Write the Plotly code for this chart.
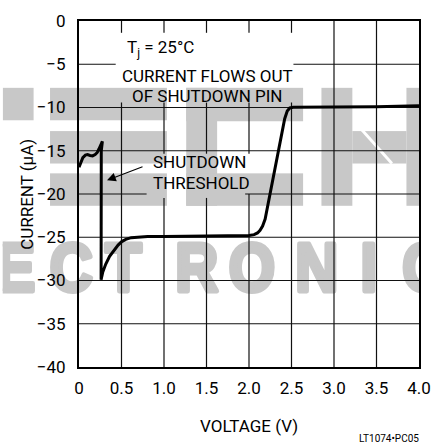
import base64
import plotly.graph_objects as go

# ---------------- data ----------------
voltage = [0.0, 0.02, 0.045, 0.075, 0.10, 0.13, 0.16, 0.19, 0.215, 0.235, 0.255, 0.275, 0.262,
           0.26, 0.28, 0.315, 0.36, 0.41, 0.46, 0.503, 0.55, 0.614, 0.70, 0.807, 1.0, 1.5, 2.0,
           2.06, 2.10, 2.13, 2.16, 2.19, 2.22, 2.30, 2.38, 2.42, 2.45, 2.48, 2.52, 3.0, 3.5, 4.0]
current = [-16.9, -16.4, -15.8, -15.5, -15.45, -15.55, -15.6, -15.45, -15.2, -14.8, -14.3, -13.9, -15.0,
           -29.9, -29.0, -28.1, -27.2, -26.5, -25.9, -25.5, -25.25, -25.05, -24.95, -24.9, -24.9, -24.85, -24.8,
           -24.7, -24.5, -24.2, -23.7, -22.9, -21.4, -17.3, -13.2, -11.3, -10.4, -10.05, -9.98, -9.95, -9.9, -9.8]

x_ticks = [0, 0.5, 1.0, 1.5, 2.0, 2.5, 3.0, 3.5, 4.0]
x_tick_labels = ["0", "0.5", "1.0", "1.5", "2.0", "2.5", "3.0", "3.5", "4.0"]
y_ticks = [0, -5, -10, -15, -20, -25, -30, -35, -40]
y_tick_labels = ["0", "\u22125", "\u221210", "\u221215", "\u221220", "\u221225", "\u221230", "\u221235", "\u221240"]

FONT = "Roboto, Arial, sans-serif"
FS = 17
W, H = 442, 446
ML, MR, MT, MB = 79, 11, 15, 79
PW, PH = W - ML - MR, H - MT - MB

# ---------------- watermark (background) as an SVG image ----------------
grey = "#c8c8c8"
rects = [
    (0, 83, 32, 116),
    (49, 83, 170, 116), (49, 127, 170, 160), (49, 170, 170, 203),
    (190, 83, 222, 203), (190, 83, 311, 117), (190, 170, 311, 203),
    (330, 83, 362, 203), (362, 127, 418, 160), (418, 83, 450, 203),
]
letters = [("E", 13), ("C", 71), ("T", 125), ("R", 201), ("O", 258), ("N", 325), ("I", 379), ("C", 436)]
svg = [f'<svg xmlns="http://www.w3.org/2000/svg" width="{W}" height="{H}" viewBox="0 0 {W} {H}">',
       '<defs><clipPath id="c"><rect x="0" y="0" width="431" height="446"/></clipPath></defs>',
       '<g clip-path="url(#c)">']
for x0, y0, x1, y1 in rects:
    svg.append(f'<rect x="{x0}" y="{y0}" width="{x1-x0}" height="{y1-y0}" fill="{grey}"/>')
svg.append('<line x1="372" y1="126" x2="403" y2="160" stroke="white" stroke-width="3"/>')
for ch, cx in letters:
    svg.append(f'<g transform="translate({cx},289.5) scale(0.88,1)"><text x="0" y="0" text-anchor="middle" '
               f'font-family="Liberation Sans, Arial, sans-serif" font-weight="bold" font-size="70" '
               f'fill="{grey}" stroke="{grey}" stroke-width="5" stroke-linejoin="round">{ch}</text></g>')
svg.append('</g></svg>')
svg_uri = "data:image/svg+xml;base64," + base64.b64encode("".join(svg).encode()).decode()

fig = go.Figure()

fig.add_trace(go.Scatter(x=voltage, y=current, mode="lines",
                         line=dict(color="black", width=3), hoverinfo="skip", showlegend=False))

# ---------------- grid lines drawn as segments (with gaps behind labels) ----------------
def px_to_y(py):
    return -(py - MT) / PH * 40.0

def px_to_x(px):
    return (px - ML) / PW * 4.0

v_gaps = {
    0.5: [(27, 98)], 1.0: [(27, 98), (150, 195)], 1.5: [(27, 98), (150, 195)],
    2.0: [(27, 98), (150, 191)], 2.5: [(27, 98)],
}
h_gaps = {-5: [(117, 301)], -20: [(149, 251)]}

shapes = []
for xv in x_ticks[1:-1]:
    start = 0.0
    for g0, g1 in v_gaps.get(xv, []):
        shapes.append(dict(type="line", xref="x", yref="y", x0=xv, x1=xv, y0=start, y1=px_to_y(g0)))
        start = px_to_y(g1)
    shapes.append(dict(type="line", xref="x", yref="y", x0=xv, x1=xv, y0=start, y1=-40))
for yv in y_ticks[1:-1]:
    start = 0.0
    for g0, g1 in h_gaps.get(yv, []):
        shapes.append(dict(type="line", xref="x", yref="y", y0=yv, y1=yv, x0=start, x1=px_to_x(g0)))
        start = px_to_x(g1)
    shapes.append(dict(type="line", xref="x", yref="y", y0=yv, y1=yv, x0=start, x1=4.0))
for s in shapes:
    s["line"] = dict(color="#111111", width=1.2)
    s["layer"] = "below"

tf = dict(family=FONT, size=FS, color="black")
annotations = [
    dict(x=px_to_x(127), y=px_to_y(43), xref="x", yref="y", text="T<sub>j</sub> = 25°C",
         showarrow=False, xanchor="left", yanchor="middle", font=tf),
    dict(x=px_to_x(212), y=px_to_y(71), xref="x", yref="y", text="CURRENT FLOWS OUT",
         showarrow=False, xanchor="center", yanchor="middle", font=tf),
    dict(x=px_to_x(212), y=px_to_y(91.5), xref="x", yref="y", text="OF SHUTDOWN PIN",
         showarrow=False, xanchor="center", yanchor="middle", font=tf),
    dict(x=px_to_x(154), y=px_to_y(158.5), xref="x", yref="y", text="SHUTDOWN",
         showarrow=False, xanchor="left", yanchor="middle", font=tf),
    dict(x=px_to_x(154), y=px_to_y(180), xref="x", yref="y", text="THRESHOLD",
         showarrow=False, xanchor="left", yanchor="middle", font=tf),
    dict(x=px_to_x(108), y=px_to_y(177), xref="x", yref="y", text="", showarrow=True,
         ax=37, ay=-14, arrowhead=2, arrowsize=1.6, arrowwidth=1.1, arrowcolor="black", standoff=0),
    dict(x=0.5, y=((H - MB) - 427) / PH, xref="paper", yref="paper", text="VOLTAGE (V)",
         showarrow=False, xanchor="center", yanchor="middle", font=tf),
    dict(x=(25 - ML) / PW, y=0.5, xref="paper", yref="paper", text="CURRENT (µA)", textangle=-90,
         showarrow=False, xanchor="center", yanchor="middle", font=tf),
    dict(x=(433 - ML) / PW, y=((H - MB) - 440) / PH, xref="paper", yref="paper", text="LT1074•PC05",
         showarrow=False, xanchor="right", yanchor="middle", font=dict(family=FONT, size=10, color="black")),
]

fig.update_layout(
    width=W, height=H, autosize=False,
    margin=dict(l=ML, r=MR, t=MT, b=MB, pad=0),
    paper_bgcolor="white", plot_bgcolor="rgba(0,0,0,0)",
    showlegend=False,
    shapes=shapes,
    annotations=annotations,
    images=[dict(source=svg_uri, xref="paper", yref="paper", x=-ML / PW, y=(H - MB) / PH,
                 sizex=W / PW, sizey=H / PH, xanchor="left", yanchor="top",
                 sizing="stretch", layer="below")],
    xaxis=dict(range=[0, 4], showgrid=False, zeroline=False, showline=True, mirror=True,
               linecolor="black", linewidth=2, tickmode="array", tickvals=x_ticks,
               ticktext=x_tick_labels, ticks="", tickfont=tf, ticklabelstandoff=5, fixedrange=True),
    yaxis=dict(range=[-40, 0], showgrid=False, zeroline=False, showline=True, mirror=True,
               linecolor="black", linewidth=2, tickmode="array", tickvals=y_ticks,
               ticktext=y_tick_labels, ticks="", tickfont=tf, ticklabelstandoff=8, fixedrange=True),
)

fig.write_html("out.html", config={"displayModeBar": False},
               post_script="document.body.style.margin='0';document.body.style.overflow='hidden';")
